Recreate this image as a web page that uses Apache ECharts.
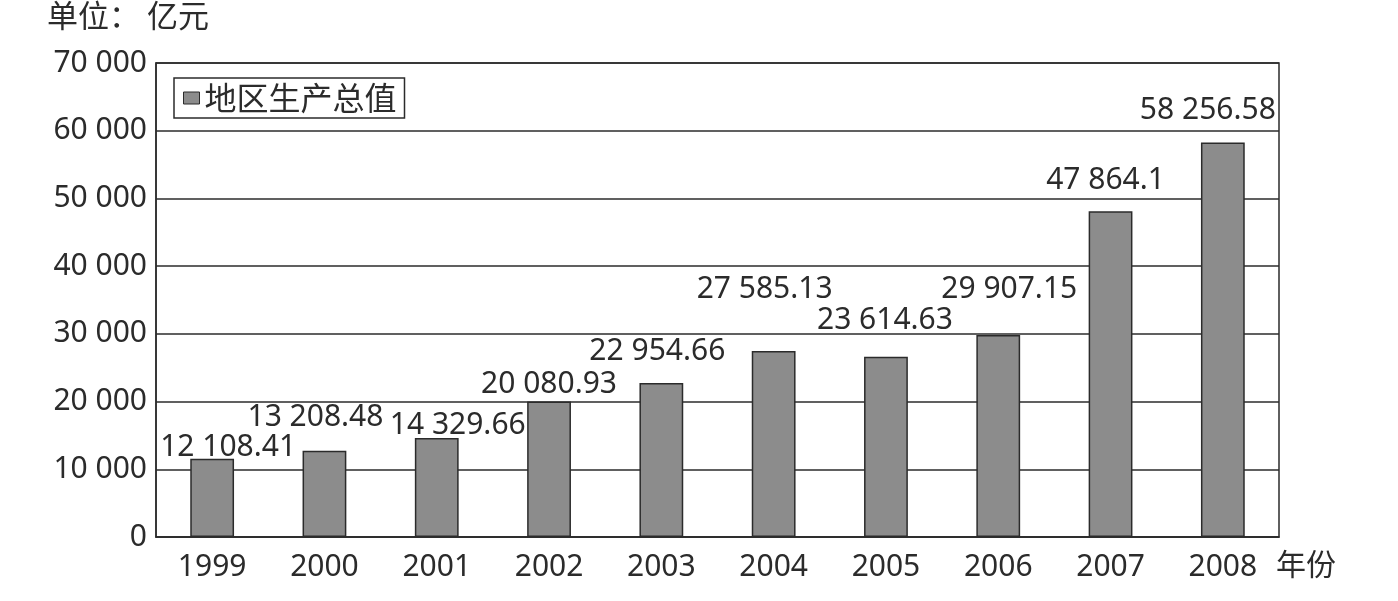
<!DOCTYPE html>
<html>
<head>
<meta charset="utf-8">
<script src="https://cdn.jsdelivr.net/npm/echarts@6/dist/echarts.min.js"></script>
<style>
  html, body { margin: 0; padding: 0; background: #fff; }
  #chart { width: 1398px; height: 601px; }
</style>
</head>
<body>
<div id="chart"></div>
<script>
  const years = ['1999', '2000', '2001', '2002', '2003', '2004', '2005', '2006', '2007', '2008'];
  // bar heights as drawn in the picture
  const gdpValues = [11560, 12740, 14610, 20000, 22740, 27470, 26630, 29830, 48090, 58250];
  // numbers printed above the bars
  const gdpLabels = ['12 108.41', '13 208.48', '14 329.66', '20 080.93', '22 954.66',
                     '27 585.13', '23 614.63', '29 907.15', '47 864.1', '58 256.58'];
  const yTicks = [0, 10000, 20000, 30000, 40000, 50000, 60000, 70000];

  const chart = echarts.init(document.getElementById('chart'));
  const ink = '#2b2b2b';
  const numFont = 'Noto Sans';

  // label nudges so they sit where the print put them
  const labelOffsets = [[16, 4], [-9, -18], [21, 2], [0, -2], [-4, -17],
                        [-9, -47], [-1, -21], [11, -31], [-5, -16], [-15, -17]];

  function fmt(v) {
    return String(v).replace(/\B(?=(\d{3})+(?!\d))/g, ' ');
  }

  const option = {
    animation: false,
    backgroundColor: '#fff',
    grid: {
      left: 156, right: 119, top: 63, bottom: 64,
      show: true, borderColor: ink, borderWidth: 1.5
    },
    legend: {
      left: 174, top: 78,
      padding: [4, 8, 4, 9],
      borderColor: ink, borderWidth: 1.5,
      itemWidth: 16, itemHeight: 12, itemGap: 6,
      textStyle: { fontSize: 32, color: ink, fontFamily: 'Noto Sans CJK SC' },
      data: [{ name: '地区生产总值', icon: 'rect',
               itemStyle: { color: '#8c8c8c', borderColor: ink, borderWidth: 1 } }]
    },
    xAxis: {
      type: 'category',
      data: years,
      axisLine: { lineStyle: { color: ink, width: 1.5 } },
      axisTick: { inside: true, length: 10, lineStyle: { color: ink, width: 1.5 } },
      axisLabel: { color: ink, fontSize: 30, fontFamily: numFont, margin: 15 }
    },
    yAxis: {
      type: 'value',
      min: yTicks[0], max: yTicks[yTicks.length - 1], interval: yTicks[1] - yTicks[0],
      axisLine: { show: true, lineStyle: { color: ink, width: 1.5 } },
      axisTick: { show: false },
      splitLine: { lineStyle: { color: ink, width: 1.5 } },
      axisLabel: { color: ink, fontSize: 30, fontFamily: numFont, margin: 9, formatter: fmt }
    },
    series: [{
      name: '地区生产总值',
      type: 'bar',
      barWidth: '39%',
      itemStyle: { color: '#8c8c8c', borderColor: ink, borderWidth: 1.5 },
      data: gdpValues.map((v, i) => ({
        value: v,
        label: {
          show: true, position: 'top', distance: 0,
          offset: labelOffsets[i],
          formatter: gdpLabels[i],
          color: ink, fontSize: 30, fontFamily: numFont
        }
      }))
    }],
    graphic: [
      {
        type: 'text', left: 47, top: 0,
        style: { text: '单位： 亿元', font: '31px "Noto Sans CJK SC"', fill: ink }
      },
      {
        type: 'text', left: 1276, top: 549,
        style: { text: '年份', font: '30px "Noto Sans CJK SC"', fill: ink }
      }
    ]
  };

  chart.setOption(option);
</script>
</body>
</html>
